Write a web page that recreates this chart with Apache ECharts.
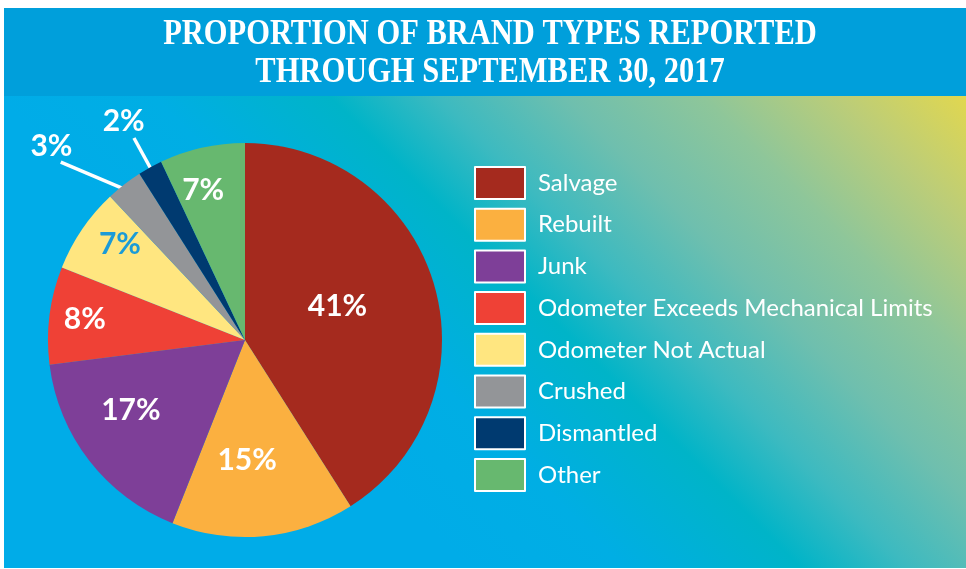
<!DOCTYPE html>
<html>
<head>
<meta charset="utf-8">
<script src="https://cdn.jsdelivr.net/npm/echarts@6/dist/echarts.min.js"></script>
<style>
html, body { margin: 0; padding: 0; background: #fff; }
#main { width: 966px; height: 569px; }
</style>
</head>
<body>
<div id="main"></div>
<script>
// data
var categories = ['Salvage', 'Rebuilt', 'Junk', 'Odometer Exceeds Mechanical Limits',
    'Odometer Not Actual', 'Crushed', 'Dismantled', 'Other'];
var shares = [41, 15, 17, 8, 7, 3, 2, 7];
var titleLines = ['PROPORTION OF BRAND TYPES REPORTED', 'THROUGH SEPTEMBER 30, 2017'];

// styles
var sliceColors = ['#a52a1e', '#fbb040', '#7e3f98', '#ef4136', '#ffe680', '#939598', '#003a70', '#67b86f'];
var labelColors = ['#fff', '#fff', '#fff', '#fff', '#1b9bd7', '#fff', '#fff', '#fff'];
// inside labels: [degrees off the slice middle, distance from centre as part of radius]
var labelPlace = [[-3.9, 0.5], [4.4, 0.61], [6.2, 0.68], [0, 0.82], [3.3, 0.8], null, null, [-3, 0.79]];
// outside labels (degrees relative to slice middle, radius parts)
var outerLabels = {
    5: { lineStart: [0, 0.955], lineEnd: [-8.2, 1.30], text: [-7.2, 1.39] },
    6: { lineStart: [0, 0.94], lineEnd: [0, 1.17], text: [-0.2, 1.27] }
};

var CX = 245, CY = 340, R = 197;

var total = shares.reduce(function (a, b) { return a + b; }, 0);
var midAngles = [];
var acc = 0;
shares.forEach(function (v) {
    midAngles.push((acc + v / 2) / total * 2 * Math.PI);
    acc += v;
});

function polar(a, r) {
    return [CX + Math.sin(a) * r, CY - Math.cos(a) * r];
}

var myChart = echarts.init(document.getElementById('main'));

var pieData = categories.map(function (name, i) {
    var outer = !!outerLabels[i];
    return {
        name: name,
        value: shares[i],
        itemStyle: { color: sliceColors[i] },
        label: { color: labelColors[i], position: outer ? 'outside' : 'inside' },
        labelLine: { show: outer }
    };
});

var option = {
    animation: false,
    graphic: [
        {
            type: 'rect', z: 0, silent: true,
            shape: { x: 4, y: 8, width: 962, height: 88 },
            style: { fill: '#009fdb' }
        },
        {
            type: 'rect', z: 0, silent: true,
            shape: { x: 4, y: 96, width: 962, height: 472 },
            style: {
                fill: new echarts.graphic.LinearGradient(240, 340, 730, -150, [
                    { offset: 0, color: '#00ace8' },
                    { offset: 0.16, color: '#00aee4' },
                    { offset: 0.34, color: '#00b4c8' },
                    { offset: 0.45, color: '#3dbac0' },
                    { offset: 0.58, color: '#6fbfae' },
                    { offset: 0.72, color: '#8ec69a' },
                    { offset: 0.86, color: '#bccd78' },
                    { offset: 1, color: '#e4d84c' }
                ], true)
            }
        },
        {
            type: 'text', z: 1, silent: true, x: 490, y: 35, scaleY: 1.18,
            style: {
                text: titleLines[0], fill: '#fff', align: 'center', verticalAlign: 'middle',
                font: 'bold 30.5px "Liberation Serif", serif'
            }
        },
        {
            type: 'text', z: 1, silent: true, x: 490, y: 73, scaleY: 1.18,
            style: {
                text: titleLines[1], fill: '#fff', align: 'center', verticalAlign: 'middle',
                font: 'bold 30.5px "Liberation Serif", serif'
            }
        }
    ],
    legend: {
        orient: 'vertical',
        left: 474,
        top: 166,
        padding: 0,
        itemWidth: 50,
        itemHeight: 32,
        itemGap: 7.7,
        icon: 'rect',
        selectedMode: false,
        itemStyle: { borderColor: '#fff', borderWidth: 2 },
        textStyle: {
            color: '#fff',
            fontSize: 24,
            fontFamily: 'Lato',
            padding: [0, 0, 0, 8]
        },
        data: categories
    },
    series: [{
        type: 'pie',
        center: [CX, CY],
        radius: R,
        startAngle: 90,
        clockwise: true,
        silent: true,
        emphasis: { disabled: true },
        itemStyle: { borderWidth: 0 },
        label: {
            show: true,
            formatter: '{c}%',
            fontSize: 30,
            fontWeight: 'bold',
            fontFamily: 'Lato'
        },
        labelLine: {
            lineStyle: { color: '#fff', width: 3.5 },
            length: 30,
            length2: 0
        },
        labelLayout: function (params) {
            var i = params.dataIndex;
            var m = midAngles[i];
            var o = outerLabels[i];
            var d = Math.PI / 180;
            if (o) {
                var t = polar(m + o.text[0] * d, o.text[1] * R);
                return {
                    x: t[0], y: t[1], align: 'center', verticalAlign: 'middle',
                    labelLinePoints: [
                        polar(m + o.lineStart[0] * d, o.lineStart[1] * R),
                        polar(m + o.lineEnd[0] * d, o.lineEnd[1] * R),
                        polar(m + o.lineEnd[0] * d, o.lineEnd[1] * R)
                    ]
                };
            }
            var p = polar(m + labelPlace[i][0] * d, labelPlace[i][1] * R);
            return { x: p[0], y: p[1], align: 'center', verticalAlign: 'middle' };
        },
        data: pieData
    }]
};

myChart.setOption(option);
</script>
</body>
</html>
